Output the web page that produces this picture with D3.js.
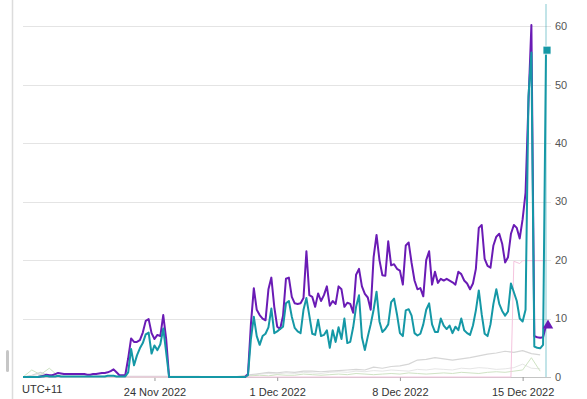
<!DOCTYPE html>
<html>
<head>
<meta charset="utf-8">
<script src="https://cdn.jsdelivr.net/npm/d3@7"></script>
<style>
  body { margin: 0; background: #fff; }
  svg { display: block; font-family: "Liberation Sans", Arial, sans-serif; }
</style>
</head>
<body>
<svg id="grafico"></svg>
<script>
// leituras a cada 4 horas, hora local (UTC+11)
var inicio = '2022-11-16T12:00:00Z';
var passoHoras = 4;

var serieRoxa = [
  0,0,0,0,0,0,0.1,0.2,0.4,0.3,0.3,0.5,0.7,0.6,0.5,0.5,0.5,0.5,0.5,0.5,0.5,0.5,0.4,0.4,0.5,0.5,0.6,0.7,0.7,0.8,1.0,1.3,0.8,0.3,0.3,0.3,
  3.2,6.6,6.0,6.0,6.3,7.6,9.6,9.9,7.5,6.5,7.2,7.0,10.6,6.5,0,
  0,0,0,0,0,0,0,0,0,0,0,0,0,0,0,0,0,0,0,0,0,0,0,0,0,0,
  0.5,9.0,15.2,
  11.5,10.6,10.0,9.7,15.0,17.0,12.0,8.6,8.2,10.5,16.8,17.0,13.7,12.6,12.5,12.6,13.5,21.5,14.0,13.7,12.0,14.3,13.0,14.0,15.5,12.2,
  13.0,12.5,15.5,15.0,12.0,12.7,12.5,11.0,17.5,18.5,15.5,14.2,13.6,11.5,20.5,24.3,20.0,17.4,17.3,23.2,19.1,19.3,18.5,18.2,15.8,22.5,23.0,19.5,16.5,
  15.0,15.2,13.8,20.0,21.5,15.8,18.0,16.1,16.8,16.5,16.8,16.5,16.2,15.8,18.0,17.6,16.5,16.0,15.0,16.0,18.5,25.5,26.0,20.2,19.0,18.7,22.5,24.0,24.5,
  22.8,19.6,20.5,24.5,26.0,25.5,23.7,27.0,31.5,47.0,60.2,7.0,6.8,6.7,6.8,8.8
];

var serieAzul = [
  0,0,0,0,0,0,0.1,0.1,0.2,0.1,0.1,0.1,0.2,0.1,0.1,0.1,0.1,0.1,0.1,0.1,0.1,0.1,0.1,0.1,0.1,0.1,0.1,0.1,0.1,0.2,0.2,0.2,0.1,0.1,0.1,0.1,
  0.8,4.8,2.0,3.7,4.9,5.8,7.3,7.6,4.0,5.4,4.6,5.6,8.3,4.2,0,
  0,0,0,0,0,0,0,0,0,0,0,0,0,0,0,0,0,0,0,0,0,0,0,0,0,0,
  0.3,6.5,10.3,
  7.0,5.5,7.0,7.4,8.5,11.7,7.5,7.8,8.2,8.6,12.6,13.0,10.3,8.4,7.8,7.5,11.5,13.5,10.5,7.4,7.2,9.8,7.0,7.2,8.0,5.0,
  8.0,6.0,8.5,6.5,10.0,5.8,6.0,8.5,12.0,14.0,6.8,4.6,6.9,9.0,11.5,14.6,9.5,7.7,8.2,9.0,12.8,13.4,10.7,7.5,7.0,11.4,11.6,10.5,7.5,
  7.1,7.4,9.0,11.5,12.6,9.0,7.7,7.7,10.0,8.8,8.2,8.8,7.5,8.6,8.0,10.0,8.0,7.5,7.2,8.8,11.4,14.8,10.7,7.4,7.0,9.0,12.5,15.0,12.5,
  11.3,10.5,11.2,16.0,14.5,13.0,10.0,9.5,11.5,48.0,55.5,5.2,5.0,4.9,5.5,55.9
];

// series secundarias, leituras a cada 12 horas
var passoFraco = 12;
var cinzaClaro = [
  0,0.3,0.8,0.2,0.1,0.1,0.1,0.1,0.1,0.1,0.1,0.1,0.1,0.1,0.1,0.1,0.1,0.1,0.1,0.1,0.1,0,0,0,0,0.2,
  0.4,0.6,0.8,0.7,0.9,0.8,1.0,1.0,0.9,1.0,1.1,1.2,1.3,1.2,1.7,1.5,1.8,1.9,2.2,2.9,3.0,3.3,3.1,2.9,3.1,3.3,3.6,3.9,4.1,4.4,4.2,4.5,4.0,3.8
];
var cinzaFraco = [
  0,0.2,0.5,0.1,0,0,0,0,0,0,0,0,0,0,0,0,0,0,0,0,0,0,0,0,0,0.1,
  0.3,0.5,0.6,0.5,0.7,0.6,0.8,0.7,0.6,0.8,0.9,0.8,1.0,0.9,1.1,1.0,1.2,1.1,1.0,1.3,1.2,1.4,1.3,1.2,1.5,1.4,1.6,1.5,1.3,1.4,1.6,2.2,1.5,1.4
];
var verdeFraco = [
  0,1.2,0.4,1.5,0.2,0,0,0,0,0,0,0,0,0,0,0,0,0,0,0,0,0,0,0,0,0,
  0.2,0.3,0.2,0.4,0.3,0.3,0.5,0.4,0.3,0.4,0.5,0.4,0.6,0.5,0.4,0.5,0.6,0.5,0.7,0.6,0.5,0.6,0.7,0.6,0.8,0.7,0.6,0.8,0.9,0.8,1.0,1.2,3.3,1.0
];
var rosaHoras = ['2022-11-16T12:00:00Z','2022-12-14T08:00:00Z','2022-12-14T12:00:00Z','2022-12-14T20:00:00Z','2022-12-15T00:00:00Z','2022-12-16T08:00:00Z'];
var rosaValores = [0, 0, 19.8, 19.4, 19.9, 19.9];

var datasEixo = ['2022-11-24', '2022-12-01', '2022-12-08', '2022-12-15'];
var ticksY = [0, 10, 20, 30, 40, 50, 60];
var fuso = 'UTC+11';

var largura = 587, altura = 399;
var margem = { esquerda: 23, direita: 41, superior: 4, inferior: 22 };
var larguraPlotagem = largura - margem.esquerda - margem.direita;
var alturaPlotagem = altura - margem.superior - margem.inferior;

var cores = { roxo: '#6a1bb5', azul: '#1598a6' };

var t0 = new Date(inicio);
function horas(lista, passo) {
  return lista.map((v, i) => ({ t: d3.utcHour.offset(t0, i * passo), v: v }));
}
var dadosRoxo = horas(serieRoxa, passoHoras);
var dadosAzul = horas(serieAzul, passoHoras);
var dadosRosa = rosaHoras.map((h, i) => ({ t: new Date(h), v: rosaValores[i] }));

var svg = d3.select('#grafico').attr('width', largura).attr('height', altura);

// borda e alca de rolagem a esquerda
svg.append('line')
   .attr('x1', 12.5).attr('x2', 12.5).attr('y1', 0).attr('y2', altura)
   .attr('stroke', '#dcdcdc').attr('stroke-width', 1.5);
svg.append('rect')
   .attr('x', 6).attr('y', 350).attr('width', 3).attr('height', 22).attr('rx', 1.5)
   .attr('fill', '#c6c6c6');

var plotagem = svg.append('g')
                  .attr('transform', 'translate(' + margem.esquerda + ',' + margem.superior + ')');

var x = d3.scaleUtc()
          .domain([t0, dadosRoxo[dadosRoxo.length - 1].t])
          .range([0, larguraPlotagem]);
var y = d3.scaleLinear().domain([0, 63.8]).range([alturaPlotagem, 0]);

plotagem.selectAll('.grade')
  .data(ticksY)
  .enter()
    .append('line')
    .attr('x1', 0).attr('x2', larguraPlotagem + 5)
    .attr('y1', d => Math.round(y(d)) + 0.5).attr('y2', d => Math.round(y(d)) + 0.5)
    .attr('stroke', d => d === 0 ? '#c4c4c4' : '#e4e4e4');

plotagem.selectAll('.rotuloY')
  .data(ticksY)
  .enter()
    .append('text')
    .text(d => d)
    .attr('x', larguraPlotagem + 9)
    .attr('y', d => y(d))
    .attr('dy', '0.35em')
    .attr('fill', '#555')
    .style('font-size', '11px');

var eixoX = d3.axisBottom(x)
  .tickValues(datasEixo.map(d => new Date(d + 'T00:00:00Z')))
  .tickFormat(d3.utcFormat('%-d %b %Y'))
  .tickSize(4)
  .tickSizeOuter(0);
var gEixo = plotagem.append('g')
  .attr('transform', 'translate(0,' + alturaPlotagem + ')')
  .call(eixoX);
gEixo.select('.domain').remove();
gEixo.selectAll('line').attr('stroke', '#999');
gEixo.selectAll('text').attr('fill', '#333').attr('dy', '1.05em').style('font-size', '11px').style('font-family', 'inherit');

plotagem.append('text')
  .text(fuso)
  .attr('x', -1)
  .attr('y', alturaPlotagem + 16)
  .attr('fill', '#333')
  .style('font-size', '11px');

var linha = d3.line().x(d => x(d.t)).y(d => y(d.v));

function desenha(dados, cor, espessura) {
  plotagem.append('path')
    .datum(dados)
    .attr('d', linha)
    .attr('fill', 'none')
    .attr('stroke', cor)
    .attr('stroke-width', espessura)
    .attr('stroke-linejoin', 'round');
}

desenha(horas(cinzaFraco, passoFraco), '#e6e6e6', 1);
desenha(horas(verdeFraco, passoFraco), '#cfe3c4', 1);
desenha(horas(cinzaClaro, passoFraco), '#d6d6d6', 1.2);
desenha(dadosRosa, '#f5c4de', 1);

// cursor no ultimo ponto
var tFim = dadosAzul[dadosAzul.length - 1].t;
plotagem.append('line')
  .attr('x1', x(tFim)).attr('x2', x(tFim))
  .attr('y1', y.range()[0]).attr('y2', y.range()[1])
  .attr('stroke', cores.azul).attr('stroke-opacity', 0.35).attr('stroke-width', 1.5);

desenha(dadosRoxo, cores.roxo, 2);
desenha(dadosAzul, cores.azul, 2);

var ultimoRoxo = dadosRoxo[dadosRoxo.length - 1];
var ultimoAzul = dadosAzul[dadosAzul.length - 1];
plotagem.append('path')
  .attr('d', d3.symbol(d3.symbolTriangle, 48)())
  .attr('transform', 'translate(' + (x(ultimoRoxo.t) + 2) + ',' + y(ultimoRoxo.v) + ')')
  .attr('fill', cores.roxo);
plotagem.append('path')
  .attr('d', d3.symbol(d3.symbolSquare, 64)())
  .attr('transform', 'translate(' + (x(ultimoAzul.t) + 1) + ',' + y(ultimoAzul.v) + ')')
  .attr('fill', cores.azul)
  .attr('stroke', '#fff')
  .attr('stroke-width', 0.8);
</script>
</body>
</html>
